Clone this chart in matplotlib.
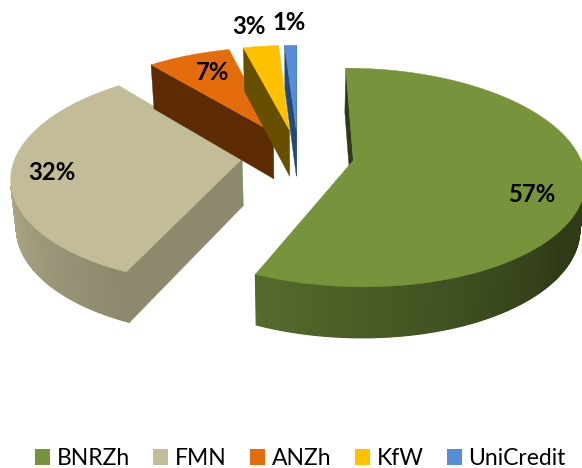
import numpy as np
import matplotlib
matplotlib.use("Agg")
import matplotlib.pyplot as plt
from matplotlib.patches import Polygon
from matplotlib.colors import to_rgb

# Data
categories = ["BNRZh", "FMN", "ANZh", "KfW", "UniCredit"]
values = [56.6, 32.4, 7, 3, 1]
labels = ["57%", "32%", "7%", "3%", "1%"]

# Style
top_colors = ["#77933C", "#C2BC98", "#E46C0A", "#FFC000", "#558ED5"]
wall_colors = ["#2F3A17", "#8D896D", "#5C2B03", "#665000", "#264A78"]
rim_light = ["#566C2C", "#B3AF8E", "#8A4208", "#997800", "#3A6AA0"]
rim_span = [(205, 125), (272, 205), (340, 320), (356, 346), (360, 356)]
label_pos = [(532, 195), (52, 173), (213, 73), (249, 26), (289, 23)]

# 3D projection parameters (pixels)
CX, CY, A, B, K, EXPLODE = 298.0, 155.0, 226.0, 105.0, 0.155, 0.248
SHRINK, DEPTH, DEPTH_POW = 0.98, 47.0, 0.45


def project(x, z):
    w = 1 + K * z
    return CX + A * x / w, CY - B * z / w, w


def bottom(sx, sy, w):
    return CX + (sx - CX) * SHRINK, sy + DEPTH / w ** DEPTH_POW


def faces_viewer(quad):
    (x0, y0), (x1, y1), (x2, y2) = quad[0], quad[1], quad[2]
    return (x1 - x0) * (y2 - y1) - (y1 - y0) * (x2 - x1) < 0


fig = plt.figure(figsize=(5.82, 4.68), dpi=100)
ax = fig.add_axes([0, 0, 1, 1])
ax.set_xlim(0, 582)
ax.set_ylim(468, 0)
ax.axis("off")

total = sum(values)
edges = np.concatenate([[0], np.cumsum(values)]) / total * 360.0

for i in range(len(values) - 1, -1, -1):
    t0, t1 = edges[i], edges[i + 1]
    mid = np.radians((t0 + t1) / 2)
    ox, oz = EXPLODE * np.sin(mid), EXPLODE * np.cos(mid)
    th = np.radians(np.linspace(t0, t1, max(int(t1 - t0) * 2, 8) + 1))
    rx, rz = ox + np.sin(th), oz + np.cos(th)
    sx, sy, w = project(rx, rz)
    bx, by = bottom(sx, sy, w)
    px_, py_, pw_ = project(np.array([ox]), np.array([oz]))
    qx_, qy_ = bottom(px_, py_, pw_)
    apex, apex_b = (px_[0], py_[0]), (qx_[0], qy_[0])
    z = 2 * i + 2
    # radial walls: only those turned towards the viewer
    wall_a = [apex, (sx[0], sy[0]), (bx[0], by[0]), apex_b]
    wall_b = [(sx[-1], sy[-1]), apex, apex_b, (bx[-1], by[-1])]
    for quad in (wall_a, wall_b):
        if faces_viewer(quad):
            ax.add_patch(Polygon(quad, closed=True, fc=wall_colors[i], ec=wall_colors[i],
                                 lw=0.3, zorder=z))
    # outer rim strips with a left-to-right shade
    light, dark = np.array(to_rgb(rim_light[i])), np.array(to_rgb(wall_colors[i]))
    a0, a1 = rim_span[i]
    for k in range(len(th) - 1):
        quad = [(sx[k], sy[k]), (sx[k + 1], sy[k + 1]), (bx[k + 1], by[k + 1]), (bx[k], by[k])]
        if not faces_viewer(quad):
            continue
        f = np.clip((np.degrees(th[k]) - a0) / (a1 - a0), 0, 1)
        col = light + (dark - light) * f
        ax.add_patch(Polygon(quad, closed=True, fc=col, ec=col, lw=0.9, zorder=z))
    # top face
    pts = np.column_stack([np.r_[px_, sx], np.r_[py_, sy]])
    ax.add_patch(Polygon(pts, closed=True, fc=top_colors[i], ec=top_colors[i], lw=0.3, zorder=z + 1))
    ax.text(*label_pos[i], labels[i], family="Lato", weight="bold", fontsize=17.2,
            ha="center", va="center", color="black", zorder=30)

handles = [Polygon([(0, 0)], fc=c, ec=c, lw=0, label=n) for c, n in zip(top_colors, categories)]
fs = 16.5
px = fs * 100 / 72
ax.legend(handles=handles, ncol=5, loc="center left", bbox_to_anchor=(35, 458.5),
          bbox_transform=ax.transData, frameon=False,
          handlelength=15 / px, handleheight=15 / px, handletextpad=7 / px,
          columnspacing=23 / px, borderpad=0, borderaxespad=0,
          prop={"family": "Lato", "size": fs})

fig.savefig("out.png", dpi=100)
